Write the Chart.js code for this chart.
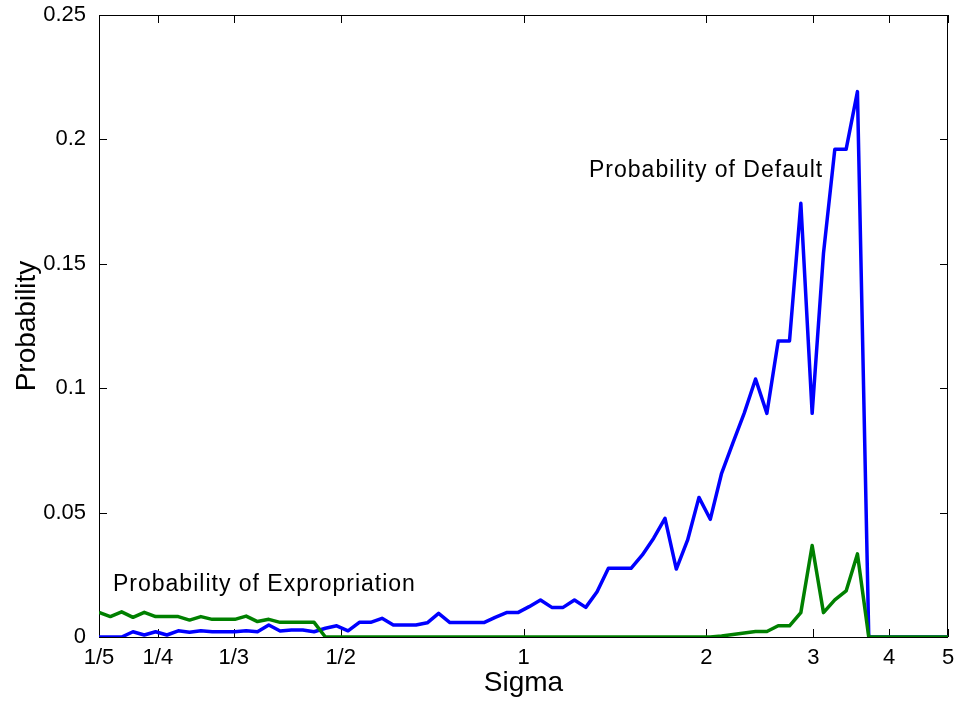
<!DOCTYPE html>
<html lang="en">
<head>
<meta charset="UTF-8">
<title>Probability vs Sigma</title>
<script src="https://cdn.jsdelivr.net/npm/chart.js"></script>
<style>
  body { margin: 0; background: #fff; }
  canvas { display: block; }
</style>
</head>
<body>
<canvas id="mycanvas" width="958" height="702"></canvas>
<script>
// sigma grid (log spaced, 1/5 .. 5)
const sigma = [
  0.2, 0.20877, 0.21793, 0.22748, 0.23746, 0.24787, 0.25874, 0.27009, 0.28193, 0.29430,
  0.30720, 0.32067, 0.33474, 0.34941, 0.36474, 0.38073, 0.39743, 0.41486, 0.43305, 0.45204,
  0.47186, 0.49256, 0.51416, 0.53670, 0.56024, 0.58480, 0.61045, 0.63722, 0.66516, 0.69433,
  0.72478, 0.75657, 0.78974, 0.82438, 0.86053, 0.89826, 0.93765, 0.97877, 1.02169, 1.06650,
  1.11327, 1.16209, 1.21305, 1.26625, 1.32177, 1.37973, 1.44024, 1.50340, 1.56933, 1.63815,
  1.70998, 1.78496, 1.86324, 1.94495, 2.03024, 2.11927, 2.21221, 2.30922, 2.41049, 2.51619,
  2.62653, 2.74171, 2.86195, 2.98744, 3.11846, 3.25521, 3.39797, 3.54697, 3.70252, 3.86489,
  4.03437, 4.21129, 4.39598, 4.58876, 4.78998, 5.0
];

const probDefault = [
  0, 0, 0, 0.0021, 0.0008, 0.0021, 0.0008, 0.0025, 0.0019, 0.0025,
  0.0021, 0.0021, 0.0021, 0.0025, 0.0021, 0.0048, 0.0024, 0.0028, 0.0028, 0.0021,
  0.0035, 0.0045, 0.0025, 0.0059, 0.0059, 0.0075, 0.0048, 0.0048, 0.0048, 0.0057,
  0.0095, 0.0058, 0.0058, 0.0058, 0.0058, 0.0079, 0.0098, 0.0098, 0.0122, 0.0149,
  0.0119, 0.0119, 0.0149, 0.0119, 0.0182, 0.0276, 0.0276, 0.0276, 0.0330, 0.0397,
  0.0477, 0.0273, 0.0390, 0.0561, 0.0473, 0.0658, 0.0780, 0.0900, 0.1037, 0.0899,
  0.1190, 0.1190, 0.1743, 0.0899, 0.1542, 0.1960, 0.1960, 0.2192, 0, 0,
  0, 0, 0, 0, 0, 0
];

const probExpropriation = [
  0.0099, 0.0082, 0.0101, 0.0079, 0.0099, 0.0082, 0.0082, 0.0082, 0.0068, 0.0082,
  0.0071, 0.0071, 0.0071, 0.0084, 0.0062, 0.0071, 0.0059, 0.0059, 0.0059, 0.0059,
  0, 0, 0, 0, 0, 0, 0, 0, 0, 0,
  0, 0, 0, 0, 0, 0, 0, 0, 0, 0,
  0, 0, 0, 0, 0, 0, 0, 0, 0, 0,
  0, 0, 0, 0, 0, 0.0004, 0.0010, 0.0016, 0.0022, 0.0022,
  0.0045, 0.0045, 0.0098, 0.0368, 0.0098, 0.0149, 0.0185, 0.0334, 0, 0,
  0, 0, 0, 0, 0, 0
];

const xTickValues = [0.2, 0.25, 1 / 3, 0.5, 1, 2, 3, 4, 5];
const xTickLabels = ['1/5', '1/4', '1/3', '1/2', '1', '2', '3', '4', '5'];
const yTickValues = [0, 0.05, 0.1, 0.15, 0.2, 0.25];
const yTickLabels = ['0', '0.05', '0.1', '0.15', '0.2', '0.25'];

// text labels placed in data coordinates (left edge, vertical middle)
const notes = [
  { text: 'Probability of Default', x: 1.282, y: 0.1873 },
  { text: 'Probability of Expropriation', x: 0.2109, y: 0.0209 }
];

const FONT = "'Liberation Sans', Arial, Helvetica, sans-serif";
Chart.defaults.font.family = FONT;
Chart.defaults.color = '#000';

const toPoints = vals => vals.map((v, i) => ({ x: sigma[i], y: v }));

// box, inward ticks and the two text notes
const matlabAxes = {
  id: 'matlabAxes',
  beforeDatasetsDraw(chart) {
    const { ctx, chartArea: a, scales: { x, y } } = chart;
    ctx.save();
    ctx.strokeStyle = '#000';
    ctx.lineWidth = 1;
    ctx.strokeRect(a.left + 0.5, a.top + 0.5, a.right - a.left - 1, a.bottom - a.top);
    ctx.beginPath();
    const tl = 8;
    xTickValues.forEach(v => {
      const px = Math.round(x.getPixelForValue(v)) + 0.5;
      ctx.moveTo(px, a.bottom); ctx.lineTo(px, a.bottom - tl);
      ctx.moveTo(px, a.top); ctx.lineTo(px, a.top + tl);
    });
    yTickValues.forEach(v => {
      const py = Math.round(y.getPixelForValue(v)) + 0.5;
      ctx.moveTo(a.left, py); ctx.lineTo(a.left + tl, py);
      ctx.moveTo(a.right, py); ctx.lineTo(a.right - tl, py);
    });
    ctx.stroke();
    ctx.restore();
  },
  afterDraw(chart) {
    const { ctx, scales: { x, y } } = chart;
    ctx.save();
    ctx.fillStyle = '#000';
    ctx.font = '23px ' + FONT;
    ctx.letterSpacing = '1px';
    ctx.textAlign = 'left';
    ctx.textBaseline = 'middle';
    notes.forEach(n => {
      ctx.fillText(n.text, x.getPixelForValue(n.x), y.getPixelForValue(n.y));
    });
    ctx.restore();
  }
};

const ctx = document.getElementById('mycanvas').getContext('2d');
new Chart(ctx, {
  type: 'line',
  data: {
    datasets: [
      {
        label: 'Probability of Expropriation',
        data: toPoints(probExpropriation),
        borderColor: '#008000',
        borderWidth: 3.5,
        borderJoinStyle: 'round',
        pointRadius: 0,
        tension: 0,
        fill: false
      },
      {
        label: 'Probability of Default',
        data: toPoints(probDefault),
        borderColor: '#0000ff',
        borderWidth: 3.5,
        borderJoinStyle: 'round',
        pointRadius: 0,
        tension: 0,
        fill: false
      }
    ]
  },
  options: {
    responsive: false,
    animation: false,
    layout: { autoPadding: false, padding: { top: 15, right: 10, left: 0, bottom: 0 } },
    plugins: { legend: { display: false }, tooltip: { enabled: false } },
    scales: {
      x: {
        type: 'logarithmic',
        min: 0.2,
        max: 5,
        grid: { display: false, drawTicks: false },
        border: { display: false },
        afterBuildTicks: s => { s.ticks = xTickValues.map(v => ({ value: v })); },
        afterFit: s => { s.height = 65; s.paddingLeft = 0; s.paddingRight = 0; },
        ticks: {
          autoSkip: false,
          maxRotation: 0,
          padding: 8,
          font: { size: 22 },
          callback: (v, i) => xTickLabels[i]
        },
        title: { display: true, text: 'Sigma', font: { size: 28 }, padding: { top: 0, bottom: 2 } }
      },
      y: {
        type: 'linear',
        min: 0,
        max: 0.25,
        grid: { display: false, drawTicks: false },
        border: { display: false },
        afterBuildTicks: s => { s.ticks = yTickValues.map(v => ({ value: v })); },
        afterFit: s => { s.width = 99; s.paddingTop = 0; s.paddingBottom = 0; },
        ticks: {
          padding: 13,
          font: { size: 22 },
          callback: (v, i) => yTickLabels[i]
        },
        title: { display: true, text: 'Probability', font: { size: 28 }, padding: { top: 10, bottom: 0 } }
      }
    }
  },
  plugins: [matlabAxes]
});
</script>
</body>
</html>
